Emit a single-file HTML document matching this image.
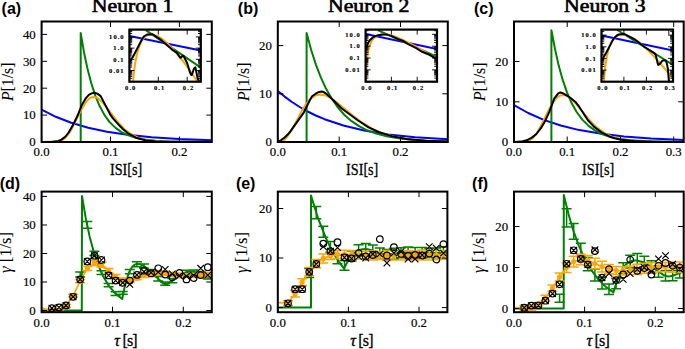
<!DOCTYPE html>
<html><head><meta charset="utf-8"><style>
html,body{margin:0;padding:0;background:#fff;width:685px;height:349px;overflow:hidden}
svg{display:block}
</style></head><body>
<svg width="685" height="349" viewBox="0 0 685 349">
<rect width="685" height="349" fill="#fff"/>
<defs>
<clipPath id="c1"><rect x="41.6" y="21.5" width="170.2" height="120.5"/></clipPath>
<clipPath id="c2"><rect x="129.4" y="29.6" width="71.4" height="52.1"/></clipPath>
<clipPath id="c3"><rect x="277.8" y="21.5" width="170.0" height="120.5"/></clipPath>
<clipPath id="c4"><rect x="365.6" y="29.6" width="71.4" height="52.1"/></clipPath>
<clipPath id="c5"><rect x="514.0" y="21.5" width="169.7" height="120.5"/></clipPath>
<clipPath id="c6"><rect x="601.5" y="29.6" width="71.5" height="52.1"/></clipPath>
</defs>
<polyline points="41.6,109.7 55.8,116.8 71.2,122.7 88.2,127.7 107,131.7 127.7,134.8 151.6,137.2 179.1,139.1 211.8,140.3" fill="none" stroke="#0000ff" stroke-width="2.00" stroke-linejoin="round" clip-path="url(#c1)"/>
<polyline points="41.6,142 80.7,142 80.7,33.1 84,52.2 87.3,68 91.3,83.3 95.2,95.4 99.5,105.8 104.4,114.9 109.6,122.1 115.6,127.9 121.5,132.1 128.4,135.4 135.9,137.7 145.1,139.5 155.6,140.7 168.8,141.4 211.8,142" fill="none" stroke="#008000" stroke-width="2.00" stroke-linejoin="round" clip-path="url(#c1)"/>
<polyline points="41.6,142 57.8,141.6 61.5,140.5 64.9,138.3 68,134.8 71.2,130 81.1,110.1 85.1,103.3 87.3,100.4 89.3,98.6 91.3,97.4 93.6,96.9 95.6,97.2 97.6,98.1 101.8,101.7 105.8,106.3 117.2,121.4 124.3,129 130.8,134 137.9,137.6 147,140.1 158.9,141.4 175.1,141.9 211.8,142" fill="none" stroke="#ffa500" stroke-width="2.00" stroke-linejoin="round" clip-path="url(#c1)"/>
<polyline points="41.6,142 52.7,141.8 58.4,140.9 61.5,139.6 65.5,136.5 68.6,132.5 73.4,124.2 77.7,115.3 81.9,104.9 85.9,98.1 89.1,94.6 92.2,93.2 94.5,92.8 97.3,93.6 100.7,96.1 110.1,114.3 113.2,118.6 119.2,125.3 123.1,129.3 127.7,133 135.9,137.7 145.3,140.3 156.4,141.5 211.8,142" fill="none" stroke="#000000" stroke-width="2.00" stroke-linejoin="round" clip-path="url(#c1)"/>
<path d="M41.6 142v-5.5M41.6 21.5v5.5M110.5 142v-5.5M110.5 21.5v5.5M179.4 142v-5.5M179.4 21.5v5.5M41.6 142h5.5M211.8 142h-5.5M41.6 115.1h5.5M211.8 115.1h-5.5M41.6 88.2h5.5M211.8 88.2h-5.5M41.6 61.3h5.5M211.8 61.3h-5.5M41.6 34.4h5.5M211.8 34.4h-5.5" stroke="#000" stroke-width="1"/>
<rect x="41.6" y="21.5" width="170.2" height="120.5" fill="none" stroke="#000" stroke-width="2"/>
<text x="41.6" y="156.4" font-family="Liberation Serif" font-size="12.8" text-anchor="middle" stroke="#000" stroke-width="0.2">0.0</text>
<text x="110.5" y="156.4" font-family="Liberation Serif" font-size="12.8" text-anchor="middle" stroke="#000" stroke-width="0.2">0.1</text>
<text x="179.4" y="156.4" font-family="Liberation Serif" font-size="12.8" text-anchor="middle" stroke="#000" stroke-width="0.2">0.2</text>
<text x="35.7" y="146.3" font-family="Liberation Serif" font-size="12.8" text-anchor="end" stroke="#000" stroke-width="0.2">0</text>
<text x="35.7" y="119.4" font-family="Liberation Serif" font-size="12.8" text-anchor="end" stroke="#000" stroke-width="0.2">10</text>
<text x="35.7" y="92.5" font-family="Liberation Serif" font-size="12.8" text-anchor="end" stroke="#000" stroke-width="0.2">20</text>
<text x="35.7" y="65.6" font-family="Liberation Serif" font-size="12.8" text-anchor="end" stroke="#000" stroke-width="0.2">30</text>
<text x="35.7" y="38.7" font-family="Liberation Serif" font-size="12.8" text-anchor="end" stroke="#000" stroke-width="0.2">40</text>
<rect x="129.4" y="29.6" width="71.4" height="52.1" fill="#fff"/>
<polyline points="129.4,36 200.8,50.4" fill="none" stroke="#0000ff" stroke-width="2.00" stroke-linejoin="round" clip-path="url(#c2)"/>
<polyline points="145.8,30.1 200.8,67.6" fill="none" stroke="#008000" stroke-width="2.00" stroke-linejoin="round" clip-path="url(#c2)"/>
<polyline points="129.5,111.7 131.1,111.7 133.5,76.3 135,64.1 137,53.7 139.2,46.5 141.8,40.8 144.8,37 148.2,34.9 150.3,34.4 152.5,34.5 157.3,35.9 162.8,39.4 168.9,44.7 175.6,52.1 183.3,61.5 191.6,73 200.8,86.6" fill="none" stroke="#ffa500" stroke-width="2.00" stroke-linejoin="round" clip-path="url(#c2)"/>
<polyline points="129.4,60.4 131.3,59 132.9,57 140.5,42.1 143.8,36.5 147,34.5 152.2,34.2 160.3,39.3 172,49.6 177,52.9 180.2,57.7 181,57.6 182.7,55.6 183.6,56 187.2,63.2 190.1,72.7 191.3,74.9 191.7,74.9 192.1,74.2 193.8,69 194.8,67.6 195.4,67.4 197.6,78.2 199.5,82.7 200.8,83.9" fill="none" stroke="#000000" stroke-width="2.00" stroke-linejoin="round" clip-path="url(#c2)"/>
<path d="M129.4 81.7h5M200.8 81.7h-5M129.4 78.3h2.8M200.8 78.3h-2.8M129.4 76.4h2.8M200.8 76.4h-2.8M129.4 75h2.8M200.8 75h-2.8M129.4 73.9h2.8M200.8 73.9h-2.8M129.4 73h2.8M200.8 73h-2.8M129.4 72.2h2.8M200.8 72.2h-2.8M129.4 71.6h2.8M200.8 71.6h-2.8M129.4 71h2.8M200.8 71h-2.8M129.4 70.5h5M200.8 70.5h-5M129.4 67.1h2.8M200.8 67.1h-2.8M129.4 65.2h2.8M200.8 65.2h-2.8M129.4 63.8h2.8M200.8 63.8h-2.8M129.4 62.7h2.8M200.8 62.7h-2.8M129.4 61.8h2.8M200.8 61.8h-2.8M129.4 61h2.8M200.8 61h-2.8M129.4 60.4h2.8M200.8 60.4h-2.8M129.4 59.8h2.8M200.8 59.8h-2.8M129.4 59.3h5M200.8 59.3h-5M129.4 55.9h2.8M200.8 55.9h-2.8M129.4 54h2.8M200.8 54h-2.8M129.4 52.6h2.8M200.8 52.6h-2.8M129.4 51.5h2.8M200.8 51.5h-2.8M129.4 50.6h2.8M200.8 50.6h-2.8M129.4 49.8h2.8M200.8 49.8h-2.8M129.4 49.2h2.8M200.8 49.2h-2.8M129.4 48.6h2.8M200.8 48.6h-2.8M129.4 48.1h5M200.8 48.1h-5M129.4 44.7h2.8M200.8 44.7h-2.8M129.4 42.8h2.8M200.8 42.8h-2.8M129.4 41.4h2.8M200.8 41.4h-2.8M129.4 40.3h2.8M200.8 40.3h-2.8M129.4 39.4h2.8M200.8 39.4h-2.8M129.4 38.6h2.8M200.8 38.6h-2.8M129.4 38h2.8M200.8 38h-2.8M129.4 37.4h2.8M200.8 37.4h-2.8M129.4 36.9h5M200.8 36.9h-5M129.4 33.5h2.8M200.8 33.5h-2.8M129.4 31.6h2.8M200.8 31.6h-2.8M129.4 30.2h2.8M200.8 30.2h-2.8M129.4 81.7v-5M129.4 29.6v5M158.3 81.7v-5M158.3 29.6v5M187.2 81.7v-5M187.2 29.6v5" stroke="#000" stroke-width="0.9"/>
<rect x="129.4" y="29.6" width="71.4" height="52.1" fill="none" stroke="#000" stroke-width="2.2"/>
<text x="123.6" y="39.1" font-family="Liberation Serif" font-size="6.5" font-weight="bold" text-anchor="end" stroke="#000" stroke-width="0.15" textLength="14.5">10.0</text>
<text x="123.6" y="50.3" font-family="Liberation Serif" font-size="6.5" font-weight="bold" text-anchor="end" stroke="#000" stroke-width="0.15" textLength="10.3">1.0</text>
<text x="123.6" y="61.5" font-family="Liberation Serif" font-size="6.5" font-weight="bold" text-anchor="end" stroke="#000" stroke-width="0.15" textLength="10.3">0.1</text>
<text x="123.6" y="72.7" font-family="Liberation Serif" font-size="6.5" font-weight="bold" text-anchor="end" stroke="#000" stroke-width="0.15" textLength="14.5">0.01</text>
<text x="130.2" y="90.3" font-family="Liberation Serif" font-size="6.5" font-weight="bold" text-anchor="middle" stroke="#000" stroke-width="0.15" textLength="10.3">0.0</text>
<text x="159.1" y="90.3" font-family="Liberation Serif" font-size="6.5" font-weight="bold" text-anchor="middle" stroke="#000" stroke-width="0.15" textLength="10.3">0.1</text>
<text x="188" y="90.3" font-family="Liberation Serif" font-size="6.5" font-weight="bold" text-anchor="middle" stroke="#000" stroke-width="0.15" textLength="10.3">0.2</text>
<text x="126.1" y="174.9" font-family="Liberation Serif" font-size="16" text-anchor="middle" stroke="#000" stroke-width="0.3" textLength="32.2" lengthAdjust="spacingAndGlyphs">ISI[s]</text>
<text transform="translate(13 81.8) rotate(-90)" font-family="Liberation Serif" font-size="17" stroke="#000" stroke-width="0.1" text-anchor="middle" textLength="38.6" lengthAdjust="spacingAndGlyphs"><tspan font-style="italic">P</tspan>[1/s]</text>
<text x="132.6" y="12.4" font-family="Liberation Serif" font-size="17.8" text-anchor="middle" stroke="#000" stroke-width="0.6" textLength="81.5" lengthAdjust="spacingAndGlyphs">Neuron 1</text>
<text x="1.6" y="13.7" font-family="Liberation Sans" font-size="16" font-weight="bold">(a)</text>
<polyline points="277.8,90.9 284.6,96.6 292,102 299.7,107 307.6,111.5 315.8,115.5 324.6,119.2 343.4,125.5 364.1,130.5 387.9,134.4 415.2,137.2 447.8,139.3" fill="none" stroke="#0000ff" stroke-width="2.00" stroke-linejoin="round" clip-path="url(#c3)"/>
<polyline points="277.8,142 306.6,142 306.6,33.1 311.2,50 315.8,64.4 320.8,77.3 326.1,88.8 331.8,98.8 337.8,107.4 344.5,115 351.6,121.2 359,126.2 367.1,130.3 376.3,133.6 386.6,136.3 398.3,138.3 411.7,139.7 427.6,140.7 447.8,141.4" fill="none" stroke="#008000" stroke-width="2.00" stroke-linejoin="round" clip-path="url(#c3)"/>
<polyline points="277.8,142 280.6,141.8 282.9,140.9 285.2,139.2 287.4,136.6 291.7,129.9 302.5,109.6 305.6,104.8 308.7,100.8 311.6,98 314.4,96.1 317.2,94.9 320.4,94.5 325.5,95.4 331.2,98.2 337.1,102.5 353.3,116 362.1,122.6 372,128.6 382.5,133.3 394.7,136.9 408.6,139.3 425.4,140.8 447.8,141.6" fill="none" stroke="#ffa500" stroke-width="2.00" stroke-linejoin="round" clip-path="url(#c3)"/>
<polyline points="277.8,142 280.9,140.3 284.3,137.7 287.7,134.6 290.6,131.2 303.9,112.3 309.9,100 312.1,96.3 317,92.9 319.2,92 321.5,91.6 323.8,92.1 326.3,93.8 333.4,100.2 341.4,108.3 358.1,120.5 368.6,127.4 378.6,132 393,136.6 406.4,139 425.1,140.7 447.8,141.5" fill="none" stroke="#000000" stroke-width="2.00" stroke-linejoin="round" clip-path="url(#c3)"/>
<path d="M277.8 142v-5.5M277.8 21.5v5.5M339.2 142v-5.5M339.2 21.5v5.5M400.5 142v-5.5M400.5 21.5v5.5M277.8 142h5.5M447.8 142h-5.5M277.8 93.8h5.5M447.8 93.8h-5.5M277.8 45.6h5.5M447.8 45.6h-5.5" stroke="#000" stroke-width="1"/>
<rect x="277.8" y="21.5" width="170" height="120.5" fill="none" stroke="#000" stroke-width="2"/>
<text x="277.8" y="156.4" font-family="Liberation Serif" font-size="12.8" text-anchor="middle" stroke="#000" stroke-width="0.2">0.0</text>
<text x="339.2" y="156.4" font-family="Liberation Serif" font-size="12.8" text-anchor="middle" stroke="#000" stroke-width="0.2">0.1</text>
<text x="400.5" y="156.4" font-family="Liberation Serif" font-size="12.8" text-anchor="middle" stroke="#000" stroke-width="0.2">0.2</text>
<text x="271.9" y="146.3" font-family="Liberation Serif" font-size="12.8" text-anchor="end" stroke="#000" stroke-width="0.2">0</text>
<text x="271.9" y="98.1" font-family="Liberation Serif" font-size="12.8" text-anchor="end" stroke="#000" stroke-width="0.2">10</text>
<text x="271.9" y="49.9" font-family="Liberation Serif" font-size="12.8" text-anchor="end" stroke="#000" stroke-width="0.2">20</text>
<rect x="365.6" y="29.6" width="71.4" height="52.1" fill="#fff"/>
<polyline points="365.6,34 437,49.1" fill="none" stroke="#0000ff" stroke-width="2.00" stroke-linejoin="round" clip-path="url(#c4)"/>
<polyline points="377.7,30.1 437,56.9" fill="none" stroke="#008000" stroke-width="2.00" stroke-linejoin="round" clip-path="url(#c4)"/>
<polyline points="365.7,97.5 366.3,69.9 367,59.6 368,52.4 369.4,46.3 371.3,41.6 373.7,38.2 376.8,35.9 380.7,34.6 385.6,34.5 391.3,35.5 398.1,37.8 406,41.3 415.1,46.1 437,59.5" fill="none" stroke="#ffa500" stroke-width="2.00" stroke-linejoin="round" clip-path="url(#c4)"/>
<polyline points="365.6,49.7 368.5,42.2 370.1,39.9 372.5,37.7 374.8,36.4 378,35.3 382.9,34.4 386.1,34.4 391.9,36.1 397.7,38.9 402.7,40.7 407.8,43.9 416.7,48.4 421.4,51.5 429.6,54.8 437,59.2" fill="none" stroke="#000000" stroke-width="2.00" stroke-linejoin="round" clip-path="url(#c4)"/>
<path d="M365.6 81.7h5M437 81.7h-5M365.6 78.1h2.8M437 78.1h-2.8M365.6 76h2.8M437 76h-2.8M365.6 74.6h2.8M437 74.6h-2.8M365.6 73.4h2.8M437 73.4h-2.8M365.6 72.5h2.8M437 72.5h-2.8M365.6 71.7h2.8M437 71.7h-2.8M365.6 71h2.8M437 71h-2.8M365.6 70.4h2.8M437 70.4h-2.8M365.6 69.9h5M437 69.9h-5M365.6 66.3h2.8M437 66.3h-2.8M365.6 64.2h2.8M437 64.2h-2.8M365.6 62.7h2.8M437 62.7h-2.8M365.6 61.6h2.8M437 61.6h-2.8M365.6 60.6h2.8M437 60.6h-2.8M365.6 59.8h2.8M437 59.8h-2.8M365.6 59.2h2.8M437 59.2h-2.8M365.6 58.5h2.8M437 58.5h-2.8M365.6 58h5M437 58h-5M365.6 54.4h2.8M437 54.4h-2.8M365.6 52.4h2.8M437 52.4h-2.8M365.6 50.9h2.8M437 50.9h-2.8M365.6 49.7h2.8M437 49.7h-2.8M365.6 48.8h2.8M437 48.8h-2.8M365.6 48h2.8M437 48h-2.8M365.6 47.3h2.8M437 47.3h-2.8M365.6 46.7h2.8M437 46.7h-2.8M365.6 46.2h5M437 46.2h-5M365.6 42.6h2.8M437 42.6h-2.8M365.6 40.5h2.8M437 40.5h-2.8M365.6 39h2.8M437 39h-2.8M365.6 37.9h2.8M437 37.9h-2.8M365.6 36.9h2.8M437 36.9h-2.8M365.6 36.1h2.8M437 36.1h-2.8M365.6 35.5h2.8M437 35.5h-2.8M365.6 34.9h2.8M437 34.9h-2.8M365.6 34.3h5M437 34.3h-5M365.6 30.7h2.8M437 30.7h-2.8M365.6 81.7v-5M365.6 29.6v5M391.4 81.7v-5M391.4 29.6v5M417.2 81.7v-5M417.2 29.6v5" stroke="#000" stroke-width="0.9"/>
<rect x="365.6" y="29.6" width="71.4" height="52.1" fill="none" stroke="#000" stroke-width="2.2"/>
<text x="359.8" y="36.5" font-family="Liberation Serif" font-size="6.5" font-weight="bold" text-anchor="end" stroke="#000" stroke-width="0.15" textLength="14.5">10.0</text>
<text x="359.8" y="48.4" font-family="Liberation Serif" font-size="6.5" font-weight="bold" text-anchor="end" stroke="#000" stroke-width="0.15" textLength="10.3">1.0</text>
<text x="359.8" y="60.2" font-family="Liberation Serif" font-size="6.5" font-weight="bold" text-anchor="end" stroke="#000" stroke-width="0.15" textLength="10.3">0.1</text>
<text x="359.8" y="72.1" font-family="Liberation Serif" font-size="6.5" font-weight="bold" text-anchor="end" stroke="#000" stroke-width="0.15" textLength="14.5">0.01</text>
<text x="366.4" y="90.3" font-family="Liberation Serif" font-size="6.5" font-weight="bold" text-anchor="middle" stroke="#000" stroke-width="0.15" textLength="10.3">0.0</text>
<text x="392.2" y="90.3" font-family="Liberation Serif" font-size="6.5" font-weight="bold" text-anchor="middle" stroke="#000" stroke-width="0.15" textLength="10.3">0.1</text>
<text x="418" y="90.3" font-family="Liberation Serif" font-size="6.5" font-weight="bold" text-anchor="middle" stroke="#000" stroke-width="0.15" textLength="10.3">0.2</text>
<text x="362.2" y="174.9" font-family="Liberation Serif" font-size="16" text-anchor="middle" stroke="#000" stroke-width="0.3" textLength="32.2" lengthAdjust="spacingAndGlyphs">ISI[s]</text>
<text transform="translate(249.2 81.8) rotate(-90)" font-family="Liberation Serif" font-size="17" stroke="#000" stroke-width="0.1" text-anchor="middle" textLength="38.6" lengthAdjust="spacingAndGlyphs"><tspan font-style="italic">P</tspan>[1/s]</text>
<text x="368.7" y="12.4" font-family="Liberation Serif" font-size="17.8" text-anchor="middle" stroke="#000" stroke-width="0.6" textLength="81.5" lengthAdjust="spacingAndGlyphs">Neuron 2</text>
<text x="237.8" y="13.7" font-family="Liberation Sans" font-size="16" font-weight="bold">(b)</text>
<polyline points="514,105 528.2,113 543.7,119.9 560.7,125.5 579.4,130.1 600.1,133.6 623.9,136.5 651.1,138.5 683.7,140" fill="none" stroke="#0000ff" stroke-width="2.00" stroke-linejoin="round" clip-path="url(#c5)"/>
<polyline points="514,142 551.4,142 551.4,30.2 555.1,49.5 558.7,65.6 562.7,79.9 567,92.4 571.6,103.1 576.6,112 582.3,119.6 588.6,125.9 594.9,130.4 601.8,134 609.8,136.7 619.4,138.8 630,140.2 643.3,141.1 683.7,141.9" fill="none" stroke="#008000" stroke-width="2.00" stroke-linejoin="round" clip-path="url(#c5)"/>
<polyline points="514,142 522.5,141.9 526.5,141.5 529.9,140.2 533,137.9 535.8,134.6 538.9,129.7 549.4,108.8 553.7,101.7 556.2,98.6 558.5,96.6 560.7,95.4 563.3,94.9 565.3,95.2 567.5,96.2 572.4,99.9 576.6,104.5 589.4,120 597,127.6 604.1,132.8 611.7,136.6 621.9,139.5 634.7,141.2 651.7,141.8 683.7,142" fill="none" stroke="#ffa500" stroke-width="2.00" stroke-linejoin="round" clip-path="url(#c5)"/>
<polyline points="514,142 521.1,141.6 526.7,140.3 531.8,137.6 536.4,134 540.9,128.2 544.6,122.1 549.4,111.6 554.2,98.7 557.9,93.8 559.3,92.8 560.5,92.5 562.7,93.2 569,96.9 575.2,101.7 579.2,106.7 587.9,120.2 593.9,126.6 602.1,132.7 610,136.7 614.6,138.2 621.1,139.7 634.1,141.1 652,141.7 683.7,142" fill="none" stroke="#000000" stroke-width="2.00" stroke-linejoin="round" clip-path="url(#c5)"/>
<path d="M514 142v-5.5M514 21.5v5.5M567.2 142v-5.5M567.2 21.5v5.5M620.5 142v-5.5M620.5 21.5v5.5M673.7 142v-5.5M673.7 21.5v5.5M514 142h5.5M683.7 142h-5.5M514 101.8h5.5M683.7 101.8h-5.5M514 61.5h5.5M683.7 61.5h-5.5" stroke="#000" stroke-width="1"/>
<rect x="514" y="21.5" width="169.7" height="120.5" fill="none" stroke="#000" stroke-width="2"/>
<text x="514" y="156.4" font-family="Liberation Serif" font-size="12.8" text-anchor="middle" stroke="#000" stroke-width="0.2">0.0</text>
<text x="567.2" y="156.4" font-family="Liberation Serif" font-size="12.8" text-anchor="middle" stroke="#000" stroke-width="0.2">0.1</text>
<text x="620.5" y="156.4" font-family="Liberation Serif" font-size="12.8" text-anchor="middle" stroke="#000" stroke-width="0.2">0.2</text>
<text x="673.7" y="156.4" font-family="Liberation Serif" font-size="12.8" text-anchor="middle" stroke="#000" stroke-width="0.2">0.3</text>
<text x="508.1" y="146.3" font-family="Liberation Serif" font-size="12.8" text-anchor="end" stroke="#000" stroke-width="0.2">0</text>
<text x="508.1" y="106.1" font-family="Liberation Serif" font-size="12.8" text-anchor="end" stroke="#000" stroke-width="0.2">10</text>
<text x="508.1" y="65.8" font-family="Liberation Serif" font-size="12.8" text-anchor="end" stroke="#000" stroke-width="0.2">20</text>
<rect x="601.5" y="29.6" width="71.5" height="52.1" fill="#fff"/>
<polyline points="601.5,35.6 673,50.4" fill="none" stroke="#0000ff" stroke-width="2.00" stroke-linejoin="round" clip-path="url(#c6)"/>
<polyline points="617.3,30 673,64.9" fill="none" stroke="#008000" stroke-width="2.00" stroke-linejoin="round" clip-path="url(#c6)"/>
<polyline points="601.6,111.7 602.5,111.7 604.1,77.9 605.4,65.4 607.1,55.4 609.1,47.7 611.5,42 614.4,37.9 617.9,35.3 622,34.4 626.9,35.2 632.5,37.8 638.9,42.1 646,48.4 654.1,56.5 663.1,66.6 673,78.6" fill="none" stroke="#ffa500" stroke-width="2.00" stroke-linejoin="round" clip-path="url(#c6)"/>
<polyline points="601.5,60.8 606.5,52.2 612.6,40.4 614.4,37.7 616.9,35.5 618.8,34.5 622.9,34 625,34.3 635.2,39.7 644.5,47 654.6,53.3 655.8,55.1 657.6,63.1 658.3,64.9 659.5,64.4 662.6,60.5 665.7,60.4 666.7,62.9 667.9,68.9 668.8,80.1 670.9,85.6 671.9,87.1 673,87.5" fill="none" stroke="#000000" stroke-width="2.00" stroke-linejoin="round" clip-path="url(#c6)"/>
<path d="M601.5 81.7h5M673 81.7h-5M601.5 78.2h2.8M673 78.2h-2.8M601.5 76.1h2.8M673 76.1h-2.8M601.5 74.7h2.8M673 74.7h-2.8M601.5 73.6h2.8M673 73.6h-2.8M601.5 72.6h2.8M673 72.6h-2.8M601.5 71.9h2.8M673 71.9h-2.8M601.5 71.2h2.8M673 71.2h-2.8M601.5 70.6h2.8M673 70.6h-2.8M601.5 70.1h5M673 70.1h-5M601.5 66.6h2.8M673 66.6h-2.8M601.5 64.5h2.8M673 64.5h-2.8M601.5 63.1h2.8M673 63.1h-2.8M601.5 61.9h2.8M673 61.9h-2.8M601.5 61h2.8M673 61h-2.8M601.5 60.2h2.8M673 60.2h-2.8M601.5 59.6h2.8M673 59.6h-2.8M601.5 59h2.8M673 59h-2.8M601.5 58.4h5M673 58.4h-5M601.5 54.9h2.8M673 54.9h-2.8M601.5 52.9h2.8M673 52.9h-2.8M601.5 51.4h2.8M673 51.4h-2.8M601.5 50.3h2.8M673 50.3h-2.8M601.5 49.4h2.8M673 49.4h-2.8M601.5 48.6h2.8M673 48.6h-2.8M601.5 47.9h2.8M673 47.9h-2.8M601.5 47.3h2.8M673 47.3h-2.8M601.5 46.8h5M673 46.8h-5M601.5 43.3h2.8M673 43.3h-2.8M601.5 41.2h2.8M673 41.2h-2.8M601.5 39.8h2.8M673 39.8h-2.8M601.5 38.6h2.8M673 38.6h-2.8M601.5 37.7h2.8M673 37.7h-2.8M601.5 36.9h2.8M673 36.9h-2.8M601.5 36.3h2.8M673 36.3h-2.8M601.5 35.7h2.8M673 35.7h-2.8M601.5 35.1h5M673 35.1h-5M601.5 31.6h2.8M673 31.6h-2.8M601.5 81.7v-5M601.5 29.6v5M623.9 81.7v-5M623.9 29.6v5M646.4 81.7v-5M646.4 29.6v5M668.8 81.7v-5M668.8 29.6v5" stroke="#000" stroke-width="0.9"/>
<rect x="601.5" y="29.6" width="71.5" height="52.1" fill="none" stroke="#000" stroke-width="2.2"/>
<text x="595.7" y="37.3" font-family="Liberation Serif" font-size="6.5" font-weight="bold" text-anchor="end" stroke="#000" stroke-width="0.15" textLength="14.5">10.0</text>
<text x="595.7" y="49" font-family="Liberation Serif" font-size="6.5" font-weight="bold" text-anchor="end" stroke="#000" stroke-width="0.15" textLength="10.3">1.0</text>
<text x="595.7" y="60.6" font-family="Liberation Serif" font-size="6.5" font-weight="bold" text-anchor="end" stroke="#000" stroke-width="0.15" textLength="10.3">0.1</text>
<text x="595.7" y="72.3" font-family="Liberation Serif" font-size="6.5" font-weight="bold" text-anchor="end" stroke="#000" stroke-width="0.15" textLength="14.5">0.01</text>
<text x="602.3" y="90.3" font-family="Liberation Serif" font-size="6.5" font-weight="bold" text-anchor="middle" stroke="#000" stroke-width="0.15" textLength="10.3">0.0</text>
<text x="624.7" y="90.3" font-family="Liberation Serif" font-size="6.5" font-weight="bold" text-anchor="middle" stroke="#000" stroke-width="0.15" textLength="10.3">0.1</text>
<text x="647.2" y="90.3" font-family="Liberation Serif" font-size="6.5" font-weight="bold" text-anchor="middle" stroke="#000" stroke-width="0.15" textLength="10.3">0.2</text>
<text x="669.6" y="90.3" font-family="Liberation Serif" font-size="6.5" font-weight="bold" text-anchor="middle" stroke="#000" stroke-width="0.15" textLength="10.3">0.3</text>
<text x="598.2" y="174.9" font-family="Liberation Serif" font-size="16" text-anchor="middle" stroke="#000" stroke-width="0.3" textLength="32.2" lengthAdjust="spacingAndGlyphs">ISI[s]</text>
<text transform="translate(485.4 81.8) rotate(-90)" font-family="Liberation Serif" font-size="17" stroke="#000" stroke-width="0.1" text-anchor="middle" textLength="38.6" lengthAdjust="spacingAndGlyphs"><tspan font-style="italic">P</tspan>[1/s]</text>
<text x="604.8" y="12.4" font-family="Liberation Serif" font-size="17.8" text-anchor="middle" stroke="#000" stroke-width="0.6" textLength="81.5" lengthAdjust="spacingAndGlyphs">Neuron 3</text>
<text x="474" y="13.7" font-family="Liberation Sans" font-size="16" font-weight="bold">(c)</text>
<clipPath id="c7"><rect x="41.6" y="191.6" width="170.2" height="120.6"/></clipPath>
<polyline points="41.6,310.5 81.8,310.5 82,196 85.7,217.9 89.6,236.4 93.9,252.4 98.5,265.8 103.4,276.8 109.1,286.2 115.3,293.4 122.2,299 125.2,284.2 128.6,273.4 130.3,269.7 132.3,266.8 134.4,264.9 136.7,263.9 140.4,264.3 145.1,266.8 150.2,271.1 162.6,283 164.9,284.1 167,284 169.3,282.9 178.2,276.3 182.1,273.9 185.4,272.5 188.8,271.8 192.7,271.7 196.8,272.5 208.3,277.2 212.7,278.4 218.4,278.4 225.8,276.9" fill="none" stroke="#008000" stroke-width="2.00" stroke-linejoin="round" clip-path="url(#c7)"/>
<path d="M80.2 272V277.1M75.2 272h10M75.2 277.1h10M87.3 221.6V228.3M82.3 221.6h10M82.3 228.3h10M94.4 251.3V255.6M89.4 251.3h10M89.4 255.6h10M101.5 270.7V274.5M96.5 270.7h10M96.5 274.5h10M108.6 283.5V286.7M103.6 283.5h10M103.6 286.7h10M115.6 291.7V295.4M110.6 291.7h10M110.6 295.4h10M122.7 291.4V294.3M117.7 291.4h10M117.7 294.3h10M129.8 269.5V273.8M124.8 269.5h10M124.8 273.8h10M136.9 261.8V266.8M131.9 261.8h10M131.9 266.8h10M144 264.1V268.3M139 264.1h10M139 268.3h10M151.1 269.6V274.4M146.1 269.6h10M146.1 274.4h10M158.2 276.5V280.9M153.2 276.5h10M153.2 280.9h10M165.2 282.1V285.2M160.2 282.1h10M160.2 285.2h10M172.3 278.5V282.8M167.3 278.5h10M167.3 282.8h10M179.4 273.7V277.5M174.4 273.7h10M174.4 277.5h10M186.5 270.2V274.5M181.5 270.2h10M181.5 274.5h10M193.6 269.9V273.9M188.6 269.9h10M188.6 273.9h10M200.7 271.5V276.2M195.7 271.5h10M195.7 276.2h10M207.8 274.8V279M202.8 274.8h10M202.8 279h10" stroke="#008000" stroke-width="1.5" fill="none" clip-path="url(#c7)"/>
<polyline points="41.6,308.2 51.9,310.5 59,309.8 66,305.9 73.1,295.7 80.2,281.1 87.3,268.4 94.4,262.8 101.5,264.7 115.6,276.7 122.7,280.1 129.8,280.2 136.9,278.2 144,275.5 151.1,273.5 158.2,272.9 165.2,273.4 179.4,275.2 186.5,275.5 207.8,274.5" fill="none" stroke="#ffa500" stroke-width="1.70" stroke-linejoin="round" clip-path="url(#c7)"/>
<path d="M51.9 309.6V311.3M46.9 309.6h10M46.9 311.3h10M59 308.7V310.9M54 308.7h10M54 310.9h10M66 304.5V307.3M61 304.5h10M61 307.3h10M73.1 294.4V297M68.1 294.4h10M68.1 297h10M80.2 279.5V282.7M75.2 279.5h10M75.2 282.7h10M87.3 266.4V270.5M82.3 266.4h10M82.3 270.5h10M94.4 260.2V265.4M89.4 260.2h10M89.4 265.4h10M101.5 262.2V267.3M96.5 262.2h10M96.5 267.3h10M108.6 268.5V272.9M103.6 268.5h10M103.6 272.9h10M115.6 274.5V278.9M110.6 274.5h10M110.6 278.9h10M122.7 278V282.2M117.7 278h10M117.7 282.2h10M129.8 278.5V282M124.8 278.5h10M124.8 282h10M136.9 276.6V279.7M131.9 276.6h10M131.9 279.7h10M144 273.4V277.5M139 273.4h10M139 277.5h10M151.1 271.5V275.6M146.1 271.5h10M146.1 275.6h10M158.2 271V274.8M153.2 271h10M153.2 274.8h10M165.2 271.6V275.2M160.2 271.6h10M160.2 275.2h10M172.3 272.5V276.3M167.3 272.5h10M167.3 276.3h10M179.4 273.2V277.1M174.4 273.2h10M174.4 277.1h10M186.5 273.7V277.3M181.5 273.7h10M181.5 277.3h10M193.6 273.6V277.2M188.6 273.6h10M188.6 277.2h10M200.7 273V276.9M195.7 273h10M195.7 276.9h10M207.8 272.2V276.7M202.8 272.2h10M202.8 276.7h10" stroke="#ffa500" stroke-width="1.5" fill="none" clip-path="url(#c7)"/>
<circle cx="51.9" cy="310.5" r="2.6" fill="#ffa500"/>
<circle cx="59" cy="309.8" r="2.6" fill="#ffa500"/>
<circle cx="66" cy="305.9" r="2.6" fill="#ffa500"/>
<circle cx="73.1" cy="295.7" r="2.6" fill="#ffa500"/>
<circle cx="80.2" cy="281.1" r="2.6" fill="#ffa500"/>
<circle cx="87.3" cy="268.4" r="2.6" fill="#ffa500"/>
<circle cx="94.4" cy="262.8" r="2.6" fill="#ffa500"/>
<circle cx="101.5" cy="264.7" r="2.6" fill="#ffa500"/>
<circle cx="108.6" cy="270.7" r="2.6" fill="#ffa500"/>
<circle cx="115.6" cy="276.7" r="2.6" fill="#ffa500"/>
<circle cx="122.7" cy="280.1" r="2.6" fill="#ffa500"/>
<circle cx="129.8" cy="280.2" r="2.6" fill="#ffa500"/>
<circle cx="136.9" cy="278.2" r="2.6" fill="#ffa500"/>
<circle cx="144" cy="275.5" r="2.6" fill="#ffa500"/>
<circle cx="151.1" cy="273.5" r="2.6" fill="#ffa500"/>
<circle cx="158.2" cy="272.9" r="2.6" fill="#ffa500"/>
<circle cx="165.2" cy="273.4" r="2.6" fill="#ffa500"/>
<circle cx="172.3" cy="274.4" r="2.6" fill="#ffa500"/>
<circle cx="179.4" cy="275.2" r="2.6" fill="#ffa500"/>
<circle cx="186.5" cy="275.5" r="2.6" fill="#ffa500"/>
<circle cx="193.6" cy="275.4" r="2.6" fill="#ffa500"/>
<circle cx="200.7" cy="274.9" r="2.6" fill="#ffa500"/>
<circle cx="207.8" cy="274.5" r="2.6" fill="#ffa500"/>
<path d="M48.6 308.2a3.3 3.3 0 1 0 6.6 0a3.3 3.3 0 1 0 -6.6 0M55.7 307.4a3.3 3.3 0 1 0 6.6 0a3.3 3.3 0 1 0 -6.6 0M62.7 305.4a3.3 3.3 0 1 0 6.6 0a3.3 3.3 0 1 0 -6.6 0M69.8 296.8a3.3 3.3 0 1 0 6.6 0a3.3 3.3 0 1 0 -6.6 0M76.9 279.4a3.3 3.3 0 1 0 6.6 0a3.3 3.3 0 1 0 -6.6 0M84 261.5a3.3 3.3 0 1 0 6.6 0a3.3 3.3 0 1 0 -6.6 0M91.1 255.7a3.3 3.3 0 1 0 6.6 0a3.3 3.3 0 1 0 -6.6 0M98.2 260a3.3 3.3 0 1 0 6.6 0a3.3 3.3 0 1 0 -6.6 0M105.3 275.4a3.3 3.3 0 1 0 6.6 0a3.3 3.3 0 1 0 -6.6 0M112.3 280.6a3.3 3.3 0 1 0 6.6 0a3.3 3.3 0 1 0 -6.6 0M119.4 282.8a3.3 3.3 0 1 0 6.6 0a3.3 3.3 0 1 0 -6.6 0M126.5 280.6a3.3 3.3 0 1 0 6.6 0a3.3 3.3 0 1 0 -6.6 0M133.6 274.9a3.3 3.3 0 1 0 6.6 0a3.3 3.3 0 1 0 -6.6 0M140.7 270.6a3.3 3.3 0 1 0 6.6 0a3.3 3.3 0 1 0 -6.6 0M147.8 273.4a3.3 3.3 0 1 0 6.6 0a3.3 3.3 0 1 0 -6.6 0M154.9 268.3a3.3 3.3 0 1 0 6.6 0a3.3 3.3 0 1 0 -6.6 0M161.9 274.6a3.3 3.3 0 1 0 6.6 0a3.3 3.3 0 1 0 -6.6 0M169 277.4a3.3 3.3 0 1 0 6.6 0a3.3 3.3 0 1 0 -6.6 0M176.1 272.9a3.3 3.3 0 1 0 6.6 0a3.3 3.3 0 1 0 -6.6 0M183.2 279.4a3.3 3.3 0 1 0 6.6 0a3.3 3.3 0 1 0 -6.6 0M190.3 278a3.3 3.3 0 1 0 6.6 0a3.3 3.3 0 1 0 -6.6 0M197.4 275.1a3.3 3.3 0 1 0 6.6 0a3.3 3.3 0 1 0 -6.6 0M204.5 267.2a3.3 3.3 0 1 0 6.6 0a3.3 3.3 0 1 0 -6.6 0" stroke="#000" stroke-width="1.2" fill="none"/>
<path d="M48.6 304.9l6.6 6.6m0 -6.6l-6.6 6.6M55.7 304.1l6.6 6.6m0 -6.6l-6.6 6.6M62.7 302.1l6.6 6.6m0 -6.6l-6.6 6.6M69.8 293.5l6.6 6.6m0 -6.6l-6.6 6.6M76.9 276.1l6.6 6.6m0 -6.6l-6.6 6.6M84 258.2l6.6 6.6m0 -6.6l-6.6 6.6M91.1 252.4l6.6 6.6m0 -6.6l-6.6 6.6M98.2 256.7l6.6 6.6m0 -6.6l-6.6 6.6M105.3 272.1l6.6 6.6m0 -6.6l-6.6 6.6M112.3 277.3l6.6 6.6m0 -6.6l-6.6 6.6M119.4 279.5l6.6 6.6m0 -6.6l-6.6 6.6M126.5 281l6.6 6.6m0 -6.6l-6.6 6.6M133.6 271.6l6.6 6.6m0 -6.6l-6.6 6.6M140.7 268.4l6.6 6.6m0 -6.6l-6.6 6.6M147.8 269.3l6.6 6.6m0 -6.6l-6.6 6.6M154.9 268.7l6.6 6.6m0 -6.6l-6.6 6.6M161.9 266.1l6.6 6.6m0 -6.6l-6.6 6.6M169 270.7l6.6 6.6m0 -6.6l-6.6 6.6M176.1 272.4l6.6 6.6m0 -6.6l-6.6 6.6M183.2 273l6.6 6.6m0 -6.6l-6.6 6.6M190.3 272.1l6.6 6.6m0 -6.6l-6.6 6.6M197.4 265l6.6 6.6m0 -6.6l-6.6 6.6M204.5 271.8l6.6 6.6m0 -6.6l-6.6 6.6" stroke="#000" stroke-width="1.2" fill="none"/>
<path d="M41.6 312.2v-5.5M41.6 191.6v5.5M112.5 312.2v-5.5M112.5 191.6v5.5M183.3 312.2v-5.5M183.3 191.6v5.5M41.6 310.5h5.5M211.8 310.5h-5.5M41.6 282h5.5M211.8 282h-5.5M41.6 253.5h5.5M211.8 253.5h-5.5M41.6 225h5.5M211.8 225h-5.5M41.6 196.4h5.5M211.8 196.4h-5.5" stroke="#000" stroke-width="1"/>
<rect x="41.6" y="191.6" width="170.2" height="120.6" fill="none" stroke="#000" stroke-width="2"/>
<text x="41.6" y="326.6" font-family="Liberation Serif" font-size="12.8" text-anchor="middle" stroke="#000" stroke-width="0.2">0.0</text>
<text x="112.5" y="326.6" font-family="Liberation Serif" font-size="12.8" text-anchor="middle" stroke="#000" stroke-width="0.2">0.1</text>
<text x="183.3" y="326.6" font-family="Liberation Serif" font-size="12.8" text-anchor="middle" stroke="#000" stroke-width="0.2">0.2</text>
<text x="35.7" y="314.8" font-family="Liberation Serif" font-size="12.8" text-anchor="end" stroke="#000" stroke-width="0.2">0</text>
<text x="35.7" y="286.3" font-family="Liberation Serif" font-size="12.8" text-anchor="end" stroke="#000" stroke-width="0.2">10</text>
<text x="35.7" y="257.8" font-family="Liberation Serif" font-size="12.8" text-anchor="end" stroke="#000" stroke-width="0.2">20</text>
<text x="35.7" y="229.3" font-family="Liberation Serif" font-size="12.8" text-anchor="end" stroke="#000" stroke-width="0.2">30</text>
<text x="35.7" y="200.7" font-family="Liberation Serif" font-size="12.8" text-anchor="end" stroke="#000" stroke-width="0.2">40</text>
<text x="126" y="345.5" font-family="Liberation Serif" font-size="16" stroke="#000" stroke-width="0.3" text-anchor="middle" textLength="23.4" lengthAdjust="spacing"><tspan font-style="italic">τ</tspan> [s]</text>
<text transform="translate(11.1 252.5) rotate(-90)" font-family="Liberation Serif" font-size="17" stroke="#000" stroke-width="0.1" text-anchor="middle" textLength="41.2" lengthAdjust="spacingAndGlyphs"><tspan font-style="italic">γ</tspan> [1/s]</text>
<text x="-0.3" y="188.6" font-family="Liberation Sans" font-size="16" font-weight="bold">(d)</text>
<clipPath id="c8"><rect x="277.8" y="191.6" width="169.6" height="120.6"/></clipPath>
<polyline points="277.8,307.6 311,307.6 311,195.6 318.2,218.7 326,238.3 330.2,247.1 334.6,255 339.2,262.2 344,268.6 348.1,260.5 352.5,254.6 357.2,250.8 362.4,249.2 365.5,249.1 369.1,249.6 372.9,250.8 379.5,253.7 384.6,254.5 389.2,254.3 401.5,252.7 408.1,252.3 429.4,253 461.4,252.7" fill="none" stroke="#008000" stroke-width="2.00" stroke-linejoin="round" clip-path="url(#c8)"/>
<path d="M309.2 268.4V277.4M304.2 268.4h10M304.2 277.4h10M316.3 206.4V218.7M311.3 206.4h10M311.3 218.7h10M323.3 226.3V237.3M318.3 226.3h10M318.3 237.3h10M330.4 241.6V252.6M325.4 241.6h10M325.4 252.6h10M337.5 255.2V263.8M332.5 255.2h10M332.5 263.8h10M344.5 260.6V270.2M339.5 260.6h10M339.5 270.2h10M351.6 251V260.9M346.6 251h10M346.6 260.9h10M358.6 244.7V256.1M353.6 244.7h10M353.6 256.1h10M365.7 243.4V255M360.7 243.4h10M360.7 255h10M372.8 245.1V256.5M367.8 245.1h10M367.8 256.5h10M379.8 248.1V259.2M374.8 248.1h10M374.8 259.2h10M386.9 249.4V259.4M381.9 249.4h10M381.9 259.4h10M393.9 248.2V259.3M388.9 248.2h10M388.9 259.3h10M401 247.8V257.8M396 247.8h10M396 257.8h10M408.1 246.9V257.7M403.1 246.9h10M403.1 257.7h10M415.1 247.5V257.4M410.1 247.5h10M410.1 257.4h10M422.2 247.6V258M417.2 247.6h10M417.2 258h10M429.3 248.5V257.5M424.3 248.5h10M424.3 257.5h10M436.3 248.1V257.8M431.3 248.1h10M431.3 257.8h10M443.4 246.7V258.9M438.4 246.7h10M438.4 258.9h10" stroke="#008000" stroke-width="1.5" fill="none" clip-path="url(#c8)"/>
<polyline points="277.8,302.6 288,303 295.1,293.7 302.2,282.2 309.2,271.6 316.3,263.6 323.3,258.4 330.4,255.7 337.5,254.6 344.5,254.4 379.8,255.5 443.4,254.9" fill="none" stroke="#ffa500" stroke-width="1.70" stroke-linejoin="round" clip-path="url(#c8)"/>
<path d="M288 300.8V305.2M283 300.8h10M283 305.2h10M295.1 290.6V296.9M290.1 290.6h10M290.1 296.9h10M302.2 278.7V285.8M297.2 278.7h10M297.2 285.8h10M309.2 267.5V275.7M304.2 267.5h10M304.2 275.7h10M316.3 259.5V267.7M311.3 259.5h10M311.3 267.7h10M323.3 254V262.9M318.3 254h10M318.3 262.9h10M330.4 251.8V259.6M325.4 251.8h10M325.4 259.6h10M337.5 250.6V258.5M332.5 250.6h10M332.5 258.5h10M344.5 250.3V258.5M339.5 250.3h10M339.5 258.5h10M351.6 250.6V258.7M346.6 250.6h10M346.6 258.7h10M358.6 251V259M353.6 251h10M353.6 259h10M365.7 251.3V259.3M360.7 251.3h10M360.7 259.3h10M372.8 250.9V260M367.8 250.9h10M367.8 260h10M379.8 251.5V259.6M374.8 251.5h10M374.8 259.6h10M386.9 250.5V260.5M381.9 250.5h10M381.9 260.5h10M393.9 250.8V260.1M388.9 250.8h10M388.9 260.1h10M401 250.9V259.9M396 250.9h10M396 259.9h10M408.1 250.6V260M403.1 250.6h10M403.1 260h10M415.1 251V259.4M410.1 251h10M410.1 259.4h10M422.2 250.1V260.1M417.2 250.1h10M417.2 260.1h10M429.3 250.2V259.9M424.3 250.2h10M424.3 259.9h10M436.3 250.2V259.7M431.3 250.2h10M431.3 259.7h10M443.4 250.5V259.3M438.4 250.5h10M438.4 259.3h10" stroke="#ffa500" stroke-width="1.5" fill="none" clip-path="url(#c8)"/>
<circle cx="288" cy="303" r="2.6" fill="#ffa500"/>
<circle cx="295.1" cy="293.7" r="2.6" fill="#ffa500"/>
<circle cx="302.2" cy="282.2" r="2.6" fill="#ffa500"/>
<circle cx="309.2" cy="271.6" r="2.6" fill="#ffa500"/>
<circle cx="316.3" cy="263.6" r="2.6" fill="#ffa500"/>
<circle cx="323.3" cy="258.4" r="2.6" fill="#ffa500"/>
<circle cx="330.4" cy="255.7" r="2.6" fill="#ffa500"/>
<circle cx="337.5" cy="254.6" r="2.6" fill="#ffa500"/>
<circle cx="344.5" cy="254.4" r="2.6" fill="#ffa500"/>
<circle cx="351.6" cy="254.7" r="2.6" fill="#ffa500"/>
<circle cx="358.6" cy="255" r="2.6" fill="#ffa500"/>
<circle cx="365.7" cy="255.3" r="2.6" fill="#ffa500"/>
<circle cx="372.8" cy="255.5" r="2.6" fill="#ffa500"/>
<circle cx="379.8" cy="255.5" r="2.6" fill="#ffa500"/>
<circle cx="386.9" cy="255.5" r="2.6" fill="#ffa500"/>
<circle cx="393.9" cy="255.4" r="2.6" fill="#ffa500"/>
<circle cx="401" cy="255.4" r="2.6" fill="#ffa500"/>
<circle cx="408.1" cy="255.3" r="2.6" fill="#ffa500"/>
<circle cx="415.1" cy="255.2" r="2.6" fill="#ffa500"/>
<circle cx="422.2" cy="255.1" r="2.6" fill="#ffa500"/>
<circle cx="429.3" cy="255" r="2.6" fill="#ffa500"/>
<circle cx="436.3" cy="255" r="2.6" fill="#ffa500"/>
<circle cx="443.4" cy="254.9" r="2.6" fill="#ffa500"/>
<path d="M284.7 303.3a3.3 3.3 0 1 0 6.6 0a3.3 3.3 0 1 0 -6.6 0M291.8 289.2a3.3 3.3 0 1 0 6.6 0a3.3 3.3 0 1 0 -6.6 0M298.9 289.2a3.3 3.3 0 1 0 6.6 0a3.3 3.3 0 1 0 -6.6 0M305.9 271.9a3.3 3.3 0 1 0 6.6 0a3.3 3.3 0 1 0 -6.6 0M313 264a3.3 3.3 0 1 0 6.6 0a3.3 3.3 0 1 0 -6.6 0M320 243.6a3.3 3.3 0 1 0 6.6 0a3.3 3.3 0 1 0 -6.6 0M327.1 251.1a3.3 3.3 0 1 0 6.6 0a3.3 3.3 0 1 0 -6.6 0M334.2 242.2a3.3 3.3 0 1 0 6.6 0a3.3 3.3 0 1 0 -6.6 0M341.2 257.5a3.3 3.3 0 1 0 6.6 0a3.3 3.3 0 1 0 -6.6 0M348.3 258.5a3.3 3.3 0 1 0 6.6 0a3.3 3.3 0 1 0 -6.6 0M355.3 253.1a3.3 3.3 0 1 0 6.6 0a3.3 3.3 0 1 0 -6.6 0M362.4 256.5a3.3 3.3 0 1 0 6.6 0a3.3 3.3 0 1 0 -6.6 0M369.5 255a3.3 3.3 0 1 0 6.6 0a3.3 3.3 0 1 0 -6.6 0M376.5 239.2a3.3 3.3 0 1 0 6.6 0a3.3 3.3 0 1 0 -6.6 0M383.6 255.5a3.3 3.3 0 1 0 6.6 0a3.3 3.3 0 1 0 -6.6 0M390.6 247.1a3.3 3.3 0 1 0 6.6 0a3.3 3.3 0 1 0 -6.6 0M397.7 254.1a3.3 3.3 0 1 0 6.6 0a3.3 3.3 0 1 0 -6.6 0M404.8 256a3.3 3.3 0 1 0 6.6 0a3.3 3.3 0 1 0 -6.6 0M411.8 255a3.3 3.3 0 1 0 6.6 0a3.3 3.3 0 1 0 -6.6 0M418.9 255.5a3.3 3.3 0 1 0 6.6 0a3.3 3.3 0 1 0 -6.6 0M426 253.6a3.3 3.3 0 1 0 6.6 0a3.3 3.3 0 1 0 -6.6 0M433 259.5a3.3 3.3 0 1 0 6.6 0a3.3 3.3 0 1 0 -6.6 0M440.1 244.1a3.3 3.3 0 1 0 6.6 0a3.3 3.3 0 1 0 -6.6 0" stroke="#000" stroke-width="1.2" fill="none"/>
<path d="M284.7 300l6.6 6.6m0 -6.6l-6.6 6.6M291.8 285.9l6.6 6.6m0 -6.6l-6.6 6.6M298.9 285.9l6.6 6.6m0 -6.6l-6.6 6.6M305.9 268.6l6.6 6.6m0 -6.6l-6.6 6.6M313 260.7l6.6 6.6m0 -6.6l-6.6 6.6M320 243.3l6.6 6.6m0 -6.6l-6.6 6.6M327.1 247.8l6.6 6.6m0 -6.6l-6.6 6.6M334.2 244.3l6.6 6.6m0 -6.6l-6.6 6.6M341.2 254.2l6.6 6.6m0 -6.6l-6.6 6.6M348.3 255.2l6.6 6.6m0 -6.6l-6.6 6.6M355.3 253.2l6.6 6.6m0 -6.6l-6.6 6.6M362.4 254.7l6.6 6.6m0 -6.6l-6.6 6.6M369.5 250.8l6.6 6.6m0 -6.6l-6.6 6.6M376.5 250.8l6.6 6.6m0 -6.6l-6.6 6.6M383.6 259.7l6.6 6.6m0 -6.6l-6.6 6.6M390.6 249.8l6.6 6.6m0 -6.6l-6.6 6.6M397.7 248.3l6.6 6.6m0 -6.6l-6.6 6.6M404.8 255.7l6.6 6.6m0 -6.6l-6.6 6.6M411.8 255.7l6.6 6.6m0 -6.6l-6.6 6.6M418.9 251.7l6.6 6.6m0 -6.6l-6.6 6.6M426 243.3l6.6 6.6m0 -6.6l-6.6 6.6M433 244.8l6.6 6.6m0 -6.6l-6.6 6.6M440.1 249.8l6.6 6.6m0 -6.6l-6.6 6.6" stroke="#000" stroke-width="1.2" fill="none"/>
<path d="M277.8 312.2v-5.5M277.8 191.6v5.5M348.4 312.2v-5.5M348.4 191.6v5.5M419 312.2v-5.5M419 191.6v5.5M277.8 307.6h5.5M447.4 307.6h-5.5M277.8 258h5.5M447.4 258h-5.5M277.8 208.5h5.5M447.4 208.5h-5.5" stroke="#000" stroke-width="1"/>
<rect x="277.8" y="191.6" width="169.6" height="120.6" fill="none" stroke="#000" stroke-width="2"/>
<text x="277.8" y="326.6" font-family="Liberation Serif" font-size="12.8" text-anchor="middle" stroke="#000" stroke-width="0.2">0.0</text>
<text x="348.4" y="326.6" font-family="Liberation Serif" font-size="12.8" text-anchor="middle" stroke="#000" stroke-width="0.2">0.1</text>
<text x="419" y="326.6" font-family="Liberation Serif" font-size="12.8" text-anchor="middle" stroke="#000" stroke-width="0.2">0.2</text>
<text x="271.9" y="311.9" font-family="Liberation Serif" font-size="12.8" text-anchor="end" stroke="#000" stroke-width="0.2">0</text>
<text x="271.9" y="262.3" font-family="Liberation Serif" font-size="12.8" text-anchor="end" stroke="#000" stroke-width="0.2">10</text>
<text x="271.9" y="212.8" font-family="Liberation Serif" font-size="12.8" text-anchor="end" stroke="#000" stroke-width="0.2">20</text>
<text x="361.9" y="345.5" font-family="Liberation Serif" font-size="16" stroke="#000" stroke-width="0.3" text-anchor="middle" textLength="23.4" lengthAdjust="spacing"><tspan font-style="italic">τ</tspan> [s]</text>
<text transform="translate(247.3 252.5) rotate(-90)" font-family="Liberation Serif" font-size="17" stroke="#000" stroke-width="0.1" text-anchor="middle" textLength="41.2" lengthAdjust="spacingAndGlyphs"><tspan font-style="italic">γ</tspan> [1/s]</text>
<text x="235.9" y="188.6" font-family="Liberation Sans" font-size="16" font-weight="bold">(e)</text>
<clipPath id="c9"><rect x="514.0" y="191.6" width="169.7" height="120.6"/></clipPath>
<polyline points="514,308.5 563.7,308.5 563.8,195.1 568.6,214.5 573.5,231.1 578.8,245.7 584.6,258.6 590.8,269.3 597.7,278.6 605.1,286.2 613.4,292.4 617.3,279.8 621.7,270.1 624,266.7 626.5,264 629.2,262 631.8,260.9 634.3,260.4 637.1,260.5 643.3,262.3 650.9,266.5 663.8,275.2 667.5,276.4 670,276.3 672.8,275.7 688.5,269.4 693.1,268.1 697.7,267.4" fill="none" stroke="#008000" stroke-width="2.00" stroke-linejoin="round" clip-path="url(#c9)"/>
<path d="M559.6 294.2V302.3M554.6 294.2h10M554.6 302.3h10M566.6 208.8V227M561.6 208.8h10M561.6 227h10M573.7 223.6V239.2M568.7 223.6h10M568.7 239.2h10M580.8 243.3V256.6M575.8 243.3h10M575.8 256.6h10M587.8 257.6V270.7M582.8 257.6h10M582.8 270.7h10M594.9 268.9V280.9M589.9 268.9h10M589.9 280.9h10M602 277.3V288.9M597 277.3h10M597 288.9h10M609 284V294.5M604 284h10M604 294.5h10M616.1 278.5V288.8M611.1 278.5h10M611.1 288.8h10M623.2 262.7V273.6M618.2 262.7h10M618.2 273.6h10M630.2 255.3V268.1M625.2 255.3h10M625.2 268.1h10M637.3 253.6V267.7M632.3 253.6h10M632.3 267.7h10M644.3 256.2V269.7M639.3 256.2h10M639.3 269.7h10M651.4 260.7V272.9M646.4 260.7h10M646.4 272.9h10M658.5 265.8V277.3M653.5 265.8h10M653.5 277.3h10M665.5 270.6V280.9M660.5 270.6h10M660.5 280.9h10M672.6 270.6V280.8M667.6 270.6h10M667.6 280.8h10M679.7 267.9V278.1M674.7 267.9h10M674.7 278.1h10" stroke="#008000" stroke-width="1.5" fill="none" clip-path="url(#c9)"/>
<polyline points="514,307.3 524.2,308.5 531.3,307.8 538.4,304.8 545.4,298.1 552.5,288.1 559.6,277 566.6,267.6 573.7,261.6 580.8,259.5 587.8,260.6 602,266.6 609,269.2 616.1,270.6 623.2,270.9 630.2,270.3 644.3,268.4 658.5,267.2 679.7,267.3" fill="none" stroke="#ffa500" stroke-width="1.70" stroke-linejoin="round" clip-path="url(#c9)"/>
<path d="M524.2 305.7V311.2M519.2 305.7h10M519.2 311.2h10M531.3 305.2V310.3M526.3 305.2h10M526.3 310.3h10M538.4 302.6V307M533.4 302.6h10M533.4 307h10M545.4 295.2V301M540.4 295.2h10M540.4 301h10M552.5 285V291.2M547.5 285h10M547.5 291.2h10M559.6 273.1V281M554.6 273.1h10M554.6 281h10M566.6 262.5V272.6M561.6 262.5h10M561.6 272.6h10M573.7 256.2V266.9M568.7 256.2h10M568.7 266.9h10M580.8 254.3V264.8M575.8 254.3h10M575.8 264.8h10M587.8 255.6V265.6M582.8 255.6h10M582.8 265.6h10M594.9 258.2V268.7M589.9 258.2h10M589.9 268.7h10M602 261.3V272M597 261.3h10M597 272h10M609 264.5V273.8M604 264.5h10M604 273.8h10M616.1 266.4V274.8M611.1 266.4h10M611.1 274.8h10M623.2 266.7V275.1M618.2 266.7h10M618.2 275.1h10M630.2 266.1V274.6M625.2 266.1h10M625.2 274.6h10M637.3 264.2V274.6M632.3 264.2h10M632.3 274.6h10M644.3 263.6V273.2M639.3 263.6h10M639.3 273.2h10M651.4 262.5V272.8M646.4 262.5h10M646.4 272.8h10M658.5 262.7V271.7M653.5 262.7h10M653.5 271.7h10M665.5 262.5V271.7M660.5 262.5h10M660.5 271.7h10M672.6 262.1V272.2M667.6 262.1h10M667.6 272.2h10M679.7 262.1V272.6M674.7 262.1h10M674.7 272.6h10" stroke="#ffa500" stroke-width="1.5" fill="none" clip-path="url(#c9)"/>
<circle cx="524.2" cy="308.5" r="2.6" fill="#ffa500"/>
<circle cx="531.3" cy="307.8" r="2.6" fill="#ffa500"/>
<circle cx="538.4" cy="304.8" r="2.6" fill="#ffa500"/>
<circle cx="545.4" cy="298.1" r="2.6" fill="#ffa500"/>
<circle cx="552.5" cy="288.1" r="2.6" fill="#ffa500"/>
<circle cx="559.6" cy="277" r="2.6" fill="#ffa500"/>
<circle cx="566.6" cy="267.6" r="2.6" fill="#ffa500"/>
<circle cx="573.7" cy="261.6" r="2.6" fill="#ffa500"/>
<circle cx="580.8" cy="259.5" r="2.6" fill="#ffa500"/>
<circle cx="587.8" cy="260.6" r="2.6" fill="#ffa500"/>
<circle cx="594.9" cy="263.5" r="2.6" fill="#ffa500"/>
<circle cx="602" cy="266.6" r="2.6" fill="#ffa500"/>
<circle cx="609" cy="269.2" r="2.6" fill="#ffa500"/>
<circle cx="616.1" cy="270.6" r="2.6" fill="#ffa500"/>
<circle cx="623.2" cy="270.9" r="2.6" fill="#ffa500"/>
<circle cx="630.2" cy="270.3" r="2.6" fill="#ffa500"/>
<circle cx="637.3" cy="269.4" r="2.6" fill="#ffa500"/>
<circle cx="644.3" cy="268.4" r="2.6" fill="#ffa500"/>
<circle cx="651.4" cy="267.6" r="2.6" fill="#ffa500"/>
<circle cx="658.5" cy="267.2" r="2.6" fill="#ffa500"/>
<circle cx="665.5" cy="267.1" r="2.6" fill="#ffa500"/>
<circle cx="672.6" cy="267.2" r="2.6" fill="#ffa500"/>
<circle cx="679.7" cy="267.3" r="2.6" fill="#ffa500"/>
<path d="M520.9 307.7a3.3 3.3 0 1 0 6.6 0a3.3 3.3 0 1 0 -6.6 0M528 305.6a3.3 3.3 0 1 0 6.6 0a3.3 3.3 0 1 0 -6.6 0M535.1 305.4a3.3 3.3 0 1 0 6.6 0a3.3 3.3 0 1 0 -6.6 0M542.1 300.7a3.3 3.3 0 1 0 6.6 0a3.3 3.3 0 1 0 -6.6 0M549.2 293.7a3.3 3.3 0 1 0 6.6 0a3.3 3.3 0 1 0 -6.6 0M556.3 284.3a3.3 3.3 0 1 0 6.6 0a3.3 3.3 0 1 0 -6.6 0M563.3 263.8a3.3 3.3 0 1 0 6.6 0a3.3 3.3 0 1 0 -6.6 0M570.4 250.3a3.3 3.3 0 1 0 6.6 0a3.3 3.3 0 1 0 -6.6 0M577.5 258.9a3.3 3.3 0 1 0 6.6 0a3.3 3.3 0 1 0 -6.6 0M584.5 264.6a3.3 3.3 0 1 0 6.6 0a3.3 3.3 0 1 0 -6.6 0M591.6 251.1a3.3 3.3 0 1 0 6.6 0a3.3 3.3 0 1 0 -6.6 0M598.7 277.7a3.3 3.3 0 1 0 6.6 0a3.3 3.3 0 1 0 -6.6 0M605.7 269.1a3.3 3.3 0 1 0 6.6 0a3.3 3.3 0 1 0 -6.6 0M612.8 280.2a3.3 3.3 0 1 0 6.6 0a3.3 3.3 0 1 0 -6.6 0M619.9 274.5a3.3 3.3 0 1 0 6.6 0a3.3 3.3 0 1 0 -6.6 0M626.9 259.7a3.3 3.3 0 1 0 6.6 0a3.3 3.3 0 1 0 -6.6 0M634 270.8a3.3 3.3 0 1 0 6.6 0a3.3 3.3 0 1 0 -6.6 0M641 268.3a3.3 3.3 0 1 0 6.6 0a3.3 3.3 0 1 0 -6.6 0M648.1 274.5a3.3 3.3 0 1 0 6.6 0a3.3 3.3 0 1 0 -6.6 0M655.2 265.8a3.3 3.3 0 1 0 6.6 0a3.3 3.3 0 1 0 -6.6 0M662.2 263a3.3 3.3 0 1 0 6.6 0a3.3 3.3 0 1 0 -6.6 0M669.3 265.8a3.3 3.3 0 1 0 6.6 0a3.3 3.3 0 1 0 -6.6 0M676.4 267.5a3.3 3.3 0 1 0 6.6 0a3.3 3.3 0 1 0 -6.6 0" stroke="#000" stroke-width="1.2" fill="none"/>
<path d="M520.9 304.4l6.6 6.6m0 -6.6l-6.6 6.6M528 302.3l6.6 6.6m0 -6.6l-6.6 6.6M535.1 302.1l6.6 6.6m0 -6.6l-6.6 6.6M542.1 297.4l6.6 6.6m0 -6.6l-6.6 6.6M549.2 290.4l6.6 6.6m0 -6.6l-6.6 6.6M556.3 281l6.6 6.6m0 -6.6l-6.6 6.6M563.3 260.5l6.6 6.6m0 -6.6l-6.6 6.6M570.4 247l6.6 6.6m0 -6.6l-6.6 6.6M577.5 255.6l6.6 6.6m0 -6.6l-6.6 6.6M584.5 261.3l6.6 6.6m0 -6.6l-6.6 6.6M591.6 246.5l6.6 6.6m0 -6.6l-6.6 6.6M598.7 274.4l6.6 6.6m0 -6.6l-6.6 6.6M605.7 270.3l6.6 6.6m0 -6.6l-6.6 6.6M612.8 276.9l6.6 6.6m0 -6.6l-6.6 6.6M619.9 276.1l6.6 6.6m0 -6.6l-6.6 6.6M626.9 270.3l6.6 6.6m0 -6.6l-6.6 6.6M634 266.2l6.6 6.6m0 -6.6l-6.6 6.6M641 264.2l6.6 6.6m0 -6.6l-6.6 6.6M648.1 268.3l6.6 6.6m0 -6.6l-6.6 6.6M655.2 255.6l6.6 6.6m0 -6.6l-6.6 6.6M662.2 252.3l6.6 6.6m0 -6.6l-6.6 6.6M669.3 260.9l6.6 6.6m0 -6.6l-6.6 6.6M676.4 265.8l6.6 6.6m0 -6.6l-6.6 6.6" stroke="#000" stroke-width="1.2" fill="none"/>
<path d="M514 312.2v-5.5M514 191.6v5.5M584.6 312.2v-5.5M584.6 191.6v5.5M655.3 312.2v-5.5M655.3 191.6v5.5M514 308.5h5.5M683.7 308.5h-5.5M514 267.5h5.5M683.7 267.5h-5.5M514 226.5h5.5M683.7 226.5h-5.5" stroke="#000" stroke-width="1"/>
<rect x="514" y="191.6" width="169.7" height="120.6" fill="none" stroke="#000" stroke-width="2"/>
<text x="514" y="326.6" font-family="Liberation Serif" font-size="12.8" text-anchor="middle" stroke="#000" stroke-width="0.2">0.0</text>
<text x="584.6" y="326.6" font-family="Liberation Serif" font-size="12.8" text-anchor="middle" stroke="#000" stroke-width="0.2">0.1</text>
<text x="655.3" y="326.6" font-family="Liberation Serif" font-size="12.8" text-anchor="middle" stroke="#000" stroke-width="0.2">0.2</text>
<text x="508.1" y="312.8" font-family="Liberation Serif" font-size="12.8" text-anchor="end" stroke="#000" stroke-width="0.2">0</text>
<text x="508.1" y="271.8" font-family="Liberation Serif" font-size="12.8" text-anchor="end" stroke="#000" stroke-width="0.2">10</text>
<text x="508.1" y="230.8" font-family="Liberation Serif" font-size="12.8" text-anchor="end" stroke="#000" stroke-width="0.2">20</text>
<text x="598.1" y="345.5" font-family="Liberation Serif" font-size="16" stroke="#000" stroke-width="0.3" text-anchor="middle" textLength="23.4" lengthAdjust="spacing"><tspan font-style="italic">τ</tspan> [s]</text>
<text transform="translate(483.5 252.5) rotate(-90)" font-family="Liberation Serif" font-size="17" stroke="#000" stroke-width="0.1" text-anchor="middle" textLength="41.2" lengthAdjust="spacingAndGlyphs"><tspan font-style="italic">γ</tspan> [1/s]</text>
<text x="472.1" y="188.6" font-family="Liberation Sans" font-size="16" font-weight="bold">(f)</text>
</svg>
</body></html>
